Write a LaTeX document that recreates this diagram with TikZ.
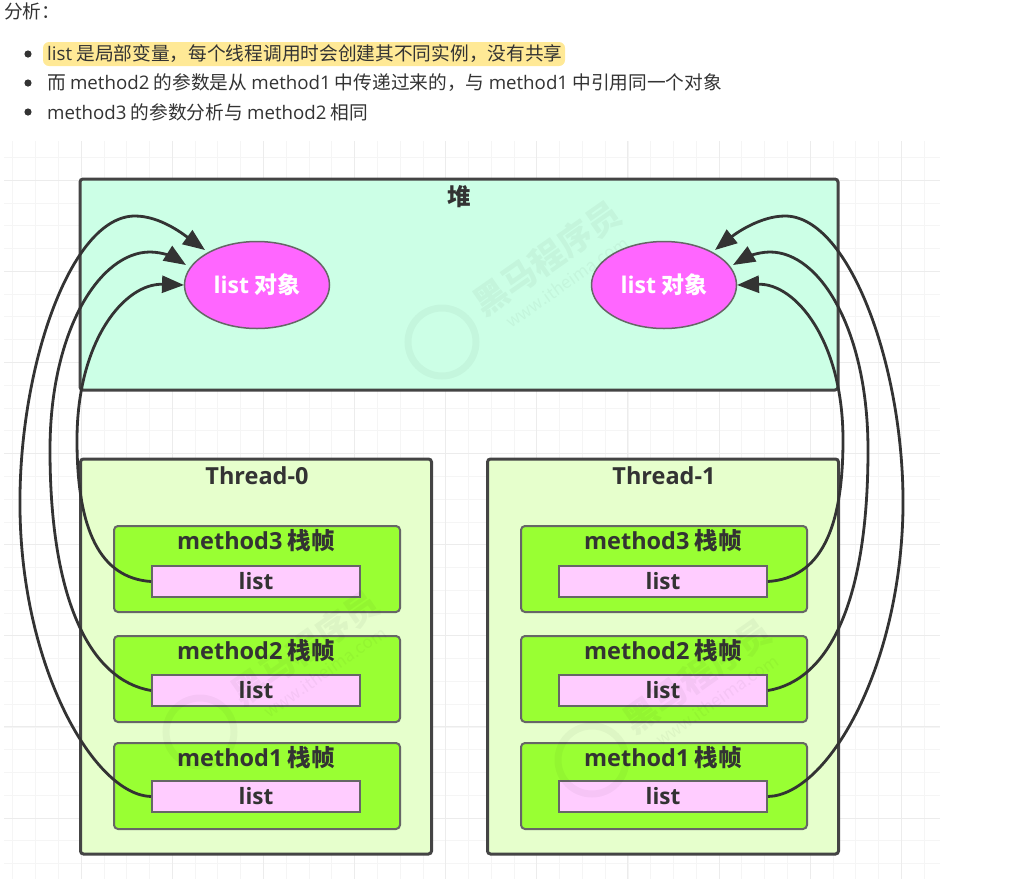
\documentclass[tikz,border=0pt]{standalone}
\usepackage[RGB]{xcolor}
\usepackage{fontspec}
\usepackage{tikz}
\usetikzlibrary{arrows.meta,shapes.geometric}
\setmainfont{Noto Sans CJK SC}
\newfontfamily\latinfont{Open Sans}
\newcommand{\la}[1]{{\latinfont #1}}
\definecolor{ink}{RGB}{51,51,51}
\definecolor{edge}{RGB}{68,68,68}
\definecolor{heapfill}{RGB}{204,255,230}
\definecolor{threadfill}{RGB}{230,255,204}
\definecolor{framefill}{RGB}{153,255,51}
\definecolor{slotfill}{RGB}{255,204,255}
\definecolor{objectfill}{RGB}{255,102,255}
\definecolor{marker}{RGB}{255,233,150}
\definecolor{gridline}{RGB}{245,245,245}
\definecolor{gridmajor}{RGB}{236,236,236}
\newcommand{\drawgridlight}{
    \foreach \k in {-3,...,37}{
      \draw[gridline] (81+22.78*\k,141)--(81+22.78*\k,879);
    }
    \foreach \k in {-1,...,30}{
      \draw[gridline] (4,180+22.78*\k)--(940,180+22.78*\k);
    }
    \foreach \k in {0,...,9}{
      \draw[gridmajor] (81+91.1*\k,141)--(81+91.1*\k,879);
    }
    \foreach \k in {0,...,7}{
      \draw[gridmajor] (4,180+91.1*\k)--(940,180+91.1*\k);
    }
}
\newcommand{\drawref}{\draw[ink,line width=2.8pt,-{Triangle[length=22pt,width=17pt]}]}
% logo at #1,#2 with its text up and to the right of it
\newcommand{\stampat}[2]{
    \draw[black,opacity=.035,line width=7pt] (#1,#2) circle (34pt);
    \node[stamp] at (#1+105,#2-84) {黑马程序员};
    \node[stamp,font=\fontsize{17}{20}\selectfont] at (#1+125,#2-60) {www.itheima.com};
}
\tikzset{
  textline/.style={anchor=west,text=ink,font=\fontsize{18.7}{22}\selectfont,inner sep=0pt},
  outerbox/.style={draw=edge,line width=3pt,rounded corners=3pt},
  framebox/.style={draw=black!60,line width=2pt,rounded corners=4pt,fill=framefill,minimum width=286pt,minimum height=86pt},
  listbox/.style={draw=black!60,line width=2pt,fill=slotfill,minimum width=208pt,minimum height=31pt,font=\fontsize{22.5}{26}\bfseries\selectfont,text=ink,inner sep=0pt},
  objnode/.style={ellipse,draw=black!60,line width=1.5pt,fill=objectfill,minimum width=145pt,minimum height=87pt,inner sep=0pt,text=white,font=\fontsize{23}{27}\bfseries\selectfont},
  titletext/.style={text=ink,font=\fontsize{23.5}{27}\bfseries\selectfont,inner sep=0pt},
  stamp/.style={text=black,opacity=.04,rotate=35,inner sep=0pt,font=\fontsize{34}{38}\bfseries\selectfont}
}
\begin{document}
\begin{tikzpicture}[x=1pt,y=-1pt]
\useasboundingbox (0,0) rectangle (1021,879);
\drawgridlight
% text above the picture
\node[textline] (head) at (4,11) {分析：};
\fill[marker,rounded corners=6pt] (43,42) rectangle (565,66);
\foreach \y in {54,83,112}{
  \fill[ink] (28,\y) circle (3.6pt);
}
\node[textline] (itema) at (47,54) {\la{list} 是局部变量，每个线程调用时会创建其不同实例，没有共享};
\node[textline] (itemb) at (47,83) {而 \la{method2} 的参数是从 \la{method1} 中传递过来的，与 \la{method1} 中引用同一个对象};
\node[textline] (itemc) at (47,112) {\la{method3} 的参数分析与 \la{method2} 相同};
% heap
\node[outerbox,fill=heapfill,minimum width=758pt,minimum height=211pt] (heapbox) at (459,284.5) {};
\node[titletext] (heaptitle) at (459,197) {堆};
\node[objnode] (obja) at (257,285) {\la{list} 对象};
\node[objnode] (objb) at (664,285) {\la{list} 对象};
% threads and their frames
\foreach \t/\x in {0/257,1/664}{
  \node[outerbox,fill=threadfill,minimum width=351pt,minimum height=395pt] (thread\t) at (\x-1,656.5) {};
  \node[titletext] (threadtitle\t) at (\x,476) {\la{Thread-\t}};
  \foreach \m/\y/\l in {3/569/581.5,2/679/690.5,1/786/796.5}{
    \node[framebox] (frame\t\m) at (\x,\y) {};
    \node[titletext] (frametitle\t\m) at (\x-1,\y-28) {\la{method\m} 栈帧};
    \node[listbox] (list\t\m) at (\x-1,\l) {\la{list}};
  }
}
\stampat{442}{342}
\stampat{200}{732}
\stampat{592}{760}
% references
\drawref (list01.west) .. controls (95,795) and (22,670) .. (20,510) .. controls (18,370) and (70,216) .. (135,216) .. controls (160,216) and (183,234) .. (205,250);
\drawref (list02.west) .. controls (90,680) and (50,600) .. (50,450) .. controls (50,330) and (100,252) .. (150,252) .. controls (163,252) and (175,258) .. (186,265);
\drawref (list03.west) .. controls (100,578) and (77,530) .. (77,440) .. controls (77,340) and (125,283) .. (184,285);
\drawref (list11.east) .. controls (827,795) and (900,670) .. (903,510) .. controls (905,370) and (850,216) .. (785,216) .. controls (760,216) and (735,234) .. (715,250);
\drawref (list12.east) .. controls (830,680) and (868,600) .. (868,450) .. controls (868,330) and (820,252) .. (770,252) .. controls (757,252) and (745,258) .. (733,265);
\drawref (list13.east) .. controls (820,578) and (843,530) .. (843,440) .. controls (843,340) and (795,283) .. (737,285);
\end{tikzpicture}
\end{document}
